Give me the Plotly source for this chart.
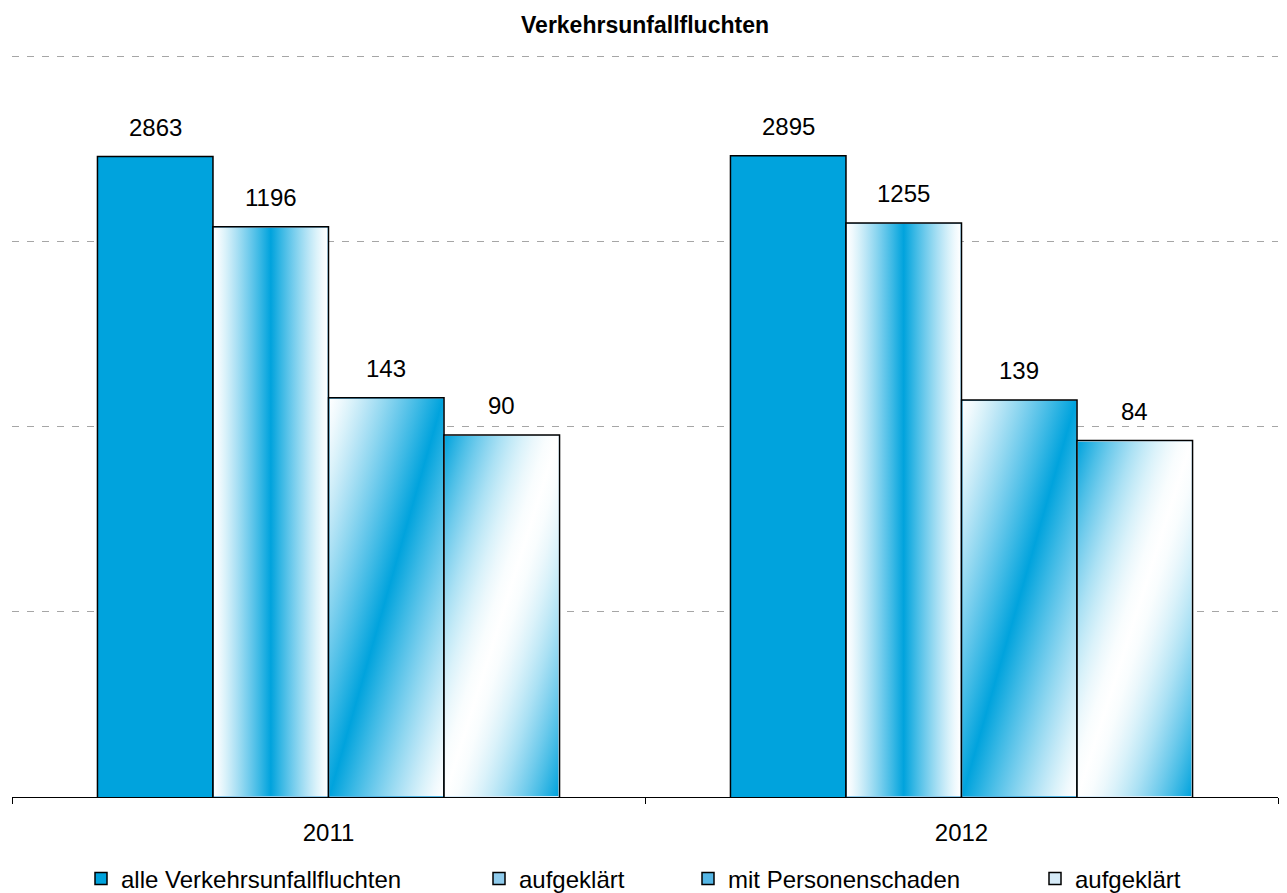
import base64
import math
import plotly.graph_objects as go

# ---------------- data ----------------
years = ["2011", "2012"]
alle_unfallfluchten = [2863, 2895]
aufgeklaert_alle = [1196, 1255]
mit_personenschaden = [143, 139]
aufgeklaert_personen = [90, 84]
series_names = ["alle Verkehrsunfallfluchten", "aufgeklärt", "mit Personenschaden", "aufgeklärt"]
series_values = [alle_unfallfluchten, aufgeklaert_alle, mit_personenschaden, aufgeklaert_personen]
chart_title = "Verkehrsunfallfluchten"

# ---------------- style ----------------
BLUE = (0, 163, 221)
BLUE_HEX = "#00A3DD"
FONT = "Liberation Sans, Arial, sans-serif"
W, H = 1287, 893
M_L, M_R, M_T, M_B = 12, 9, 53, 96
PW = W - M_L - M_R
PH = H - M_T - M_B
X_RANGE = [-0.5, 1.5]
Y_RANGE = [0, 4.0162]
BAR_W = 0.1825
OFFSETS = [-0.365, -0.1825, 0.0, 0.1825]
LEGEND_COLORS = [BLUE_HEX, "#8fcbec", "#55b6e5", "#d6ebf8"]
LEGEND_X_PX = [81, 479, 688, 1035]
LEGEND_Y_PX = 879
GAMMA = [None, 1.2, 1.2, 1.6]


def mix(f):
    r = round(255 * (1 - f) + BLUE[0] * f)
    g = round(255 * (1 - f) + BLUE[1] * f)
    b = round(255 * (1 - f) + BLUE[2] * f)
    return f"#{r:02x}{g:02x}{b:02x}"


def stops(white_center, gamma):
    ss = [0, 0.1, 0.2, 0.3, 0.4, 0.5, 0.6, 0.7, 0.8, 0.9, 1.0]
    pts = [(s * 0.5, s) for s in ss] + [(1 - s * 0.5, s) for s in reversed(ss[:-1])]
    out = []
    for t, s in pts:
        if white_center:
            # blue at the ends, broad white in the middle
            f = (1 - s) ** gamma
        else:
            f = s ** gamma
        out.append(f'<stop offset="{t:.3f}" stop-color="{mix(f)}"/>')
    return "".join(out)


def grad_src(x2, y2, white_center, gamma):
    svg = (
        '<svg xmlns="http://www.w3.org/2000/svg" width="100" height="100" '
        'viewBox="0 0 100 100" preserveAspectRatio="none">'
        f'<defs><linearGradient id="g" x1="0" y1="0" x2="{x2}" y2="{y2}">'
        f'{stops(white_center, gamma)}</linearGradient></defs>'
        '<rect x="0" y="0" width="100" height="100" fill="url(#g)"/></svg>'
    )
    return "data:image/svg+xml;base64," + base64.b64encode(svg.encode()).decode()


GRADIENTS = [None,
             grad_src(1, 0, False, GAMMA[1]),
             grad_src(1, 1, False, GAMMA[2]),
             grad_src(1, 1, True, GAMMA[3])]

fig = go.Figure()
legend_ids = ["legend", "legend2", "legend3", "legend4"]
for k, (name, vals) in enumerate(zip(series_names, series_values)):
    fig.add_trace(go.Bar(
        x=years, y=vals, name=name,
        offset=OFFSETS[k], width=BAR_W,
        marker=dict(color=LEGEND_COLORS[k], line=dict(color="#000000", width=1.5)),
        legend=legend_ids[k],
        hoverinfo="x+y+name",
    ))

# gradient fills (decorative) and value labels, positioned from the data
ix = 1.0 * (X_RANGE[1] - X_RANGE[0]) / PW
iy = 1.0 * (Y_RANGE[1] - Y_RANGE[0]) / PH
images = []
annotations = []
for k, vals in enumerate(series_values):
    for i, v in enumerate(vals):
        top = math.log10(v)
        if GRADIENTS[k] is not None:
            images.append(dict(
                source=GRADIENTS[k], xref="x", yref="y",
                x=i + OFFSETS[k] + ix, y=top - iy,
                sizex=BAR_W - 2 * ix, sizey=top - 2 * iy,
                xanchor="left", yanchor="top", sizing="stretch", layer="above",
            ))
        annotations.append(dict(
            x=i + OFFSETS[k] + BAR_W / 2, y=top, xref="x", yref="y",
            text=str(v), showarrow=False, yanchor="bottom", yshift=14,
            font=dict(family=FONT, size=24, color="#000000"),
        ))

legend_common = dict(
    orientation="h", xref="container", yref="container",
    xanchor="left", yanchor="middle", bgcolor="rgba(0,0,0,0)",
    font=dict(family=FONT, size=24, color="#000000"),
)
layout_legends = {}
for k, lid in enumerate(legend_ids):
    layout_legends[lid] = dict(legend_common, x=LEGEND_X_PX[k] / W, y=1 - LEGEND_Y_PX / H)

fig.update_layout(
    width=W, height=H,
    margin=dict(l=M_L, r=M_R, t=M_T, b=M_B, autoexpand=False),
    paper_bgcolor="white", plot_bgcolor="white",
    barmode="overlay",
    font=dict(family=FONT, size=24, color="#000000"),
    title=dict(text=f"<b>{chart_title}</b>", x=0.5, xref="paper", xanchor="center",
               y=1 - 25 / H, yref="container", yanchor="middle",
               font=dict(family=FONT, size=23, color="#000000")),
    xaxis=dict(type="category", range=X_RANGE, showgrid=False, showline=True,
               linecolor="#000000", linewidth=1, ticks="outside", tickson="boundaries",
               ticklen=6, tickcolor="#000000", tickwidth=1, ticklabelstandoff=14,
               tickfont=dict(family=FONT, size=24, color="#000000")),
    yaxis=dict(type="log", range=Y_RANGE, showticklabels=False, showline=False,
               ticks="", dtick=1, tick0=0, showgrid=True, gridcolor="#A6A6A6", gridwidth=1,
               griddash="7px,8px", zeroline=False),
    images=images,
    annotations=annotations,
    showlegend=True,
    **layout_legends,
)

fig.write_html(
    "out.html",
    config={"displayModeBar": False},
    post_script="document.body.style.margin='0';document.body.style.padding='0';",
)
